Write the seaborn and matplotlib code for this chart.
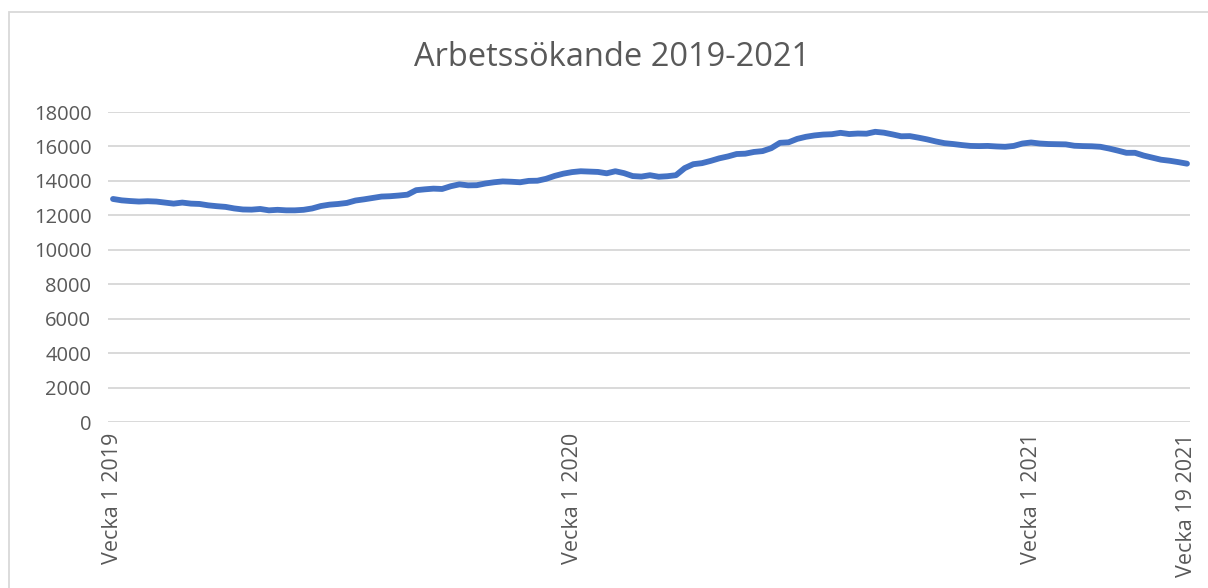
import numpy as np
import pandas as pd
import matplotlib
matplotlib.use("Agg")
import matplotlib.pyplot as plt
import seaborn as sns
from matplotlib.patches import Rectangle

# ---- data ----
title = "Arbetssökande 2019-2021"
years = [2019, 2020, 2021]
weeks_per_year = [53, 53, 19]
tick_labels = ["Vecka 1 2019", "Vecka 1 2020", "Vecka 1 2021", "Vecka 19 2021"]
values = [
    12950, 12870, 12830, 12800, 12820, 12800, 12740, 12680, 12740, 12680,
    12660, 12580, 12530, 12490, 12400, 12340, 12330, 12370, 12290, 12320,
    12290, 12290, 12320, 12400, 12540, 12620, 12660, 12720, 12860, 12930,
    13010, 13090, 13110, 13150, 13200, 13460, 13510, 13550, 13530, 13690,
    13800, 13740, 13750, 13850, 13920, 13970, 13950, 13920, 14000, 14010,
    14120, 14290, 14420, 14510, 14560, 14540, 14520, 14440, 14560, 14450,
    14280, 14250, 14330, 14240, 14270, 14330, 14740, 14970, 15030, 15160,
    15310, 15420, 15560, 15580, 15680, 15730, 15900, 16210, 16240, 16440,
    16560, 16640, 16690, 16710, 16790, 16720, 16750, 16740, 16850, 16800,
    16700, 16590, 16600, 16510, 16410, 16290, 16190, 16140, 16080, 16030,
    16020, 16030, 16000, 15980, 16030, 16170, 16230, 16170, 16140, 16130,
    16120, 16040, 16020, 16010, 15980, 15880, 15760, 15630, 15630, 15470,
    15350, 15230, 15170, 15090, 15000,
]
y_ticks = [0, 2000, 4000, 6000, 8000, 10000, 12000, 14000, 16000, 18000]

categories = [f"Vecka {w} {y}" for y, n in zip(years, weeks_per_year) for w in range(1, n + 1)]
categories = categories[:len(values)]
df = pd.DataFrame({"idx": np.arange(len(values)), "vecka": categories, "antal": values})

sns.set_theme(style="white")
plt.rcParams["font.family"] = ["Open Sans", "DejaVu Sans"]

W, H = 1208, 588
fig = plt.figure(figsize=(W / 100, H / 100), dpi=100)
fig.patch.set_facecolor("white")

# outer chart frame
fig.patches.append(Rectangle((9 / W, -0.1), 1.2, 1 - 12 / H + 0.1, transform=fig.transFigure,
                             fill=False, edgecolor="#D9D9D9", linewidth=1.3))

ax = fig.add_axes([108 / W, 1 - 422 / H, (1190 - 108) / W, (422 - 112) / H])
ax.set_facecolor("none")

sns.lineplot(data=df, x="idx", y="antal", ax=ax, color="#4472C4", linewidth=4.2,
             solid_capstyle="round", solid_joinstyle="round")

ax.set_ylim(0, 18000)
step = (1187 - 113) / (len(values) - 1)
ax.set_xlim(-5 / step, len(values) - 1 + 3 / step)
ax.set_yticks(y_ticks)
ax.set_yticklabels([str(v) for v in y_ticks], color="#595959", fontsize=14.5)
ax.yaxis.grid(True, color="#D9D9D9", linewidth=1.4)
ax.xaxis.grid(False)
for s in ax.spines.values():
    s.set_visible(False)

tick_idx = [categories.index(t) if t in categories else len(values) - 1 for t in tick_labels]
tick_idx[-1] = len(values) - 1
ax.set_xticks(tick_idx)
ax.set_xticklabels(tick_labels, rotation=90, color="#595959", fontsize=15.5, va="top")
ax.tick_params(axis="both", length=0)
ax.tick_params(axis="y", pad=12)
ax.tick_params(axis="x", pad=8)
ax.set_xlabel("")
ax.set_ylabel("")

fig.text(612 / W, 1 - 57 / H, title, ha="center", va="center", fontsize=23.5,
         color="#595959", fontweight="normal")

fig.savefig("out.png", dpi=100)
